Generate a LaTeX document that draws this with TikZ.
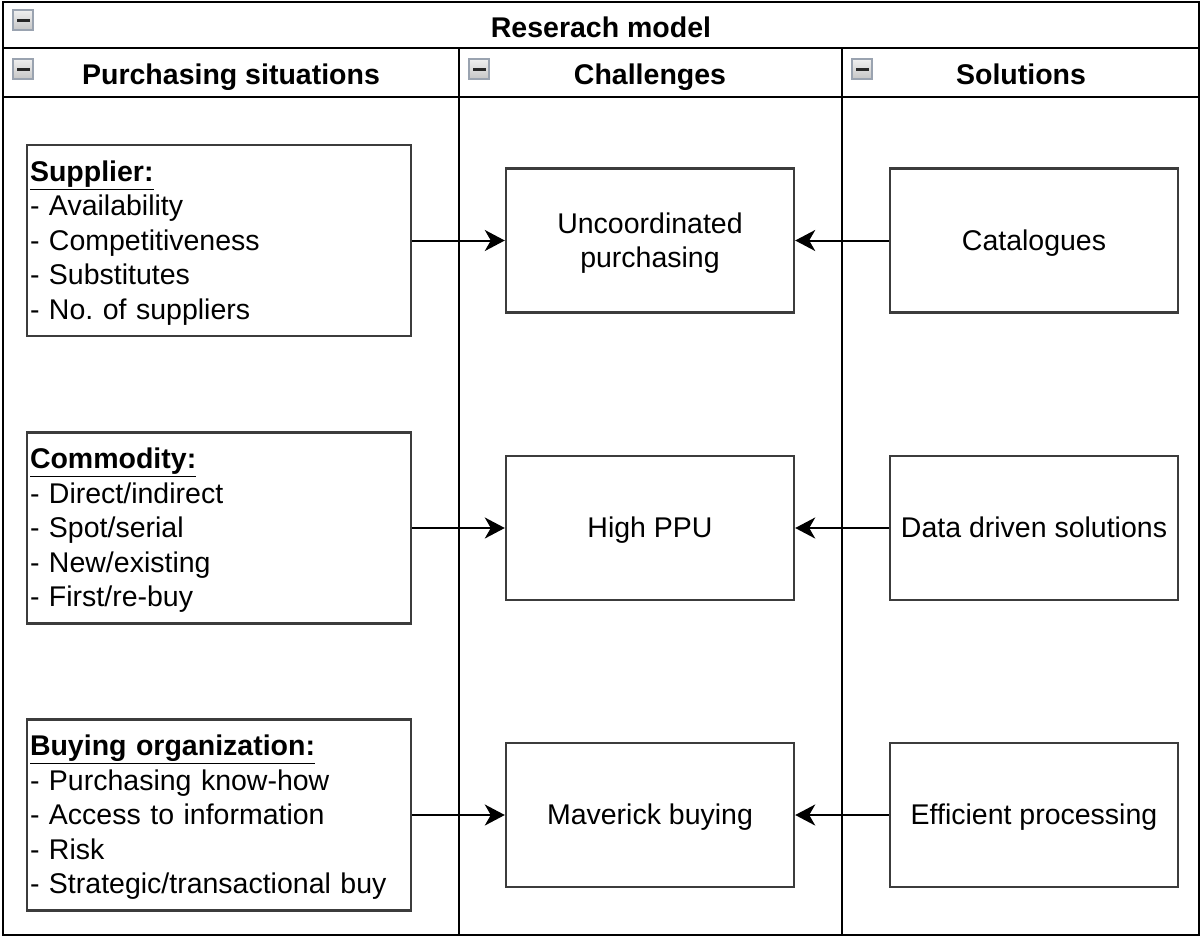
\documentclass[tikz,border=0pt]{standalone}
\usepackage{fontspec}
\setmainfont{Liberation Sans}
\usetikzlibrary{arrows.meta}
\frenchspacing
\definecolor{boxline}{HTML}{3C3C3C}
\definecolor{iconline}{HTML}{9AA3B0}
\newcommand{\linestrut}{\rule[-7.35pt]{0pt}{34.5pt}}
\tikzset{
  lane/.style={draw=black, line width=2.2pt},
  struts/.style={execute at begin node=\linestrut, execute at end node=\linestrut},
  ibox/.style={draw=boxline, line width=2.4pt, fill=white, minimum width=288pt, minimum height=144pt, align=center, inner sep=0pt, struts, font=\fontsize{28.5}{34.5}\selectfont},
  lbox/.style={draw=boxline, line width=2.4pt, fill=white, text width=378pt, minimum height=191pt, align=left, inner xsep=3pt, inner ysep=0pt, struts, font=\fontsize{28.5}{34.5}\selectfont},
  head/.style={font=\bfseries\fontsize{28.5}{34.5}\selectfont, inner sep=0pt, text height=27.15pt, text depth=7.35pt},
  conn/.style={line width=2pt, -{Stealth[length=20pt, width=21pt, inset=6pt]}},
}
\newcommand{\collapseicon}[2]{%
  \shade[top color=gray!12, bottom color=gray!45, draw=iconline, line width=1.2pt] (#1,#2) rectangle ++(20,20);
  \draw[line width=2.6pt, black!85] (#1+4,#2+10.5) -- ++(12.5,0);
}
\begin{document}
\begin{tikzpicture}[x=1pt, y=-1pt]
\useasboundingbox (0,0) rectangle (1201,938);
\fill[white] (0,0) rectangle (1201,938);
% swimlane frame
\draw[lane] (3,2) rectangle (1199,935);
\draw[lane] (3,48) -- (1199,48);
\draw[lane] (3,97) -- (1199,97);
\draw[lane] (459,48) -- (459,935);
\draw[lane] (842,48) -- (842,935);
% icons
\collapseicon{13}{10}
\collapseicon{13}{59}
\collapseicon{469}{59}
\collapseicon{852}{59}
% headers
\node[head] (title) at (601,27.5) {Reserach model};
\node[head] (h1) at (231,75) {Purchasing situations};
\node[head] (h2) at (650,75) {Challenges};
\node[head] (h3) at (1021,75) {Solutions};
% left boxes
\node[lbox] (sup) at (219,240.5) {\textbf{\underline{Supplier:}}\\- Availability\\- Competitiveness\\- Substitutes\\- No. of suppliers};
\node[lbox] (com) at (219,528) {\textbf{\underline{Commodity:}}\\- Direct/indirect\\- Spot/serial\\- New/existing\\- First/re-buy};
\node[lbox] (org) at (219,815) {\textbf{\underline{Buying organization:}}\\- Purchasing know-how\\- Access to information\\- Risk\\- Strategic/transactional buy};
% challenges
\node[ibox] (unc) at (650,240.5) {Uncoordinated\linestrut\\purchasing\linestrut};
\node[ibox] (ppu) at (650,528) {High PPU};
\node[ibox] (mav) at (650,815) {Maverick buying};
% solutions
\node[ibox] (cat) at (1034,240.5) {Catalogues};
\node[ibox] (dat) at (1034,528) {Data driven solutions};
\node[ibox] (eff) at (1034,815) {Efficient processing};
% connectors
\draw[conn] (sup.east) -- (unc.west);
\draw[conn] (com.east) -- (ppu.west);
\draw[conn] (org.east) -- (mav.west);
\draw[conn] (cat.west) -- (unc.east);
\draw[conn] (dat.west) -- (ppu.east);
\draw[conn] (eff.west) -- (mav.east);
\end{tikzpicture}
\end{document}
